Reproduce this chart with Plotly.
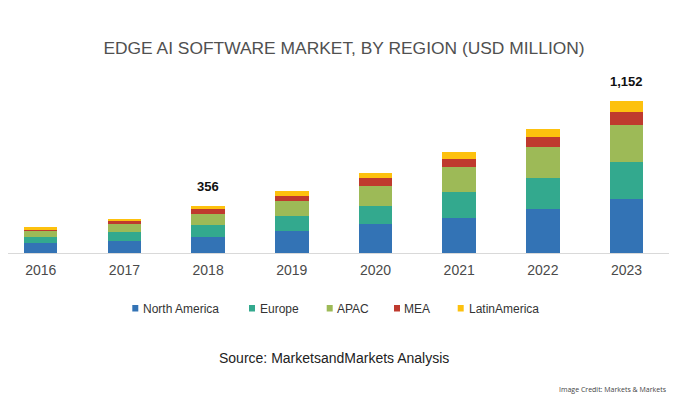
import plotly.graph_objects as go

years = ["2016", "2017", "2018", "2019", "2020", "2021", "2022", "2023"]
north_america = [75, 93, 124, 163, 218, 266, 331, 406]
europe = [48, 63, 89, 120, 140, 193, 233, 283]
apac = [45, 70, 80, 113, 151, 188, 238, 281]
mea = [13, 15, 38, 38, 58, 60, 78, 95]
latin_america = [13, 17, 25, 35, 35, 53, 60, 87]

series_names = ["North America", "Europe", "APAC", "MEA", "LatinAmerica"]
series_values = [north_america, europe, apac, mea, latin_america]
colors = ["#3373B5", "#33A98E", "#9DBA57", "#BF3A2E", "#FDC10E"]

label_years = ["2018", "2023"]
label_texts = ["356", "1,152"]

# figure geometry (page body adds an 8px offset)
W, H = 672, 392
TOP, BOT, RIGHT = 73, 147, 11
PW = W - RIGHT
PH = H - TOP - BOT
BASE = H - BOT


def px_x(fx):
    return fx / PW


def px_y(fy):
    return (BASE - fy) / PH


fig = go.Figure()
for name, vals, col in zip(series_names, series_values, colors):
    fig.add_trace(go.Bar(x=years, y=vals, name=name, showlegend=False,
                         marker=dict(color=col, line=dict(width=0))))

totals = [sum(v[i] for v in series_values) for i in range(len(years))]
for yr, txt in zip(label_years, label_texts):
    idx = years.index(yr)
    fig.add_annotation(x=idx, y=totals[idx], text="<b>" + txt + "</b>", showarrow=False,
                       yanchor="bottom", yshift=10, font=dict(size=13, color="#111111"))

# custom legend (square + label)
legend_sq_x = [124.3, 241, 318.7, 386, 449.7]
legend_tx_x = [133.7, 251.3, 328, 395.3, 460.3]
for name, col, sx, tx in zip(series_names, colors, legend_sq_x, legend_tx_x):
    fig.add_shape(type="rect", xref="paper", yref="paper",
                  x0=px_x(sx), x1=px_x(sx + 6), y0=px_y(303.5), y1=px_y(297),
                  fillcolor=col, line=dict(width=0))
    fig.add_annotation(text=name, xref="paper", yref="paper", x=px_x(tx), y=px_y(301),
                       xanchor="left", yanchor="middle", showarrow=False, xshift=-1,
                       font=dict(size=12, color="#333333"))

fig.add_annotation(text="Source: MarketsandMarkets Analysis", xref="paper", yref="paper",
                   x=px_x(326), y=px_y(350), showarrow=False, yanchor="middle",
                   font=dict(size=14, color="#222222"))
fig.add_annotation(text="Image Credit: Markets & Markets", xref="paper", yref="paper",
                   x=1.0, y=px_y(381), showarrow=False, xanchor="right", yanchor="middle",
                   font=dict(size=7, color="#444444", family="Open Sans, sans-serif"))

fig.update_layout(
    barmode="stack",
    bargap=0.6,
    width=W, height=H,
    paper_bgcolor="white", plot_bgcolor="white",
    margin=dict(l=0, r=RIGHT, t=TOP, b=BOT),
    font=dict(family="Liberation Sans, Arial, sans-serif"),
    title=dict(text="EDGE AI SOFTWARE MARKET, BY REGION (USD MILLION)", x=0.5, xanchor="center",
               y=1 - 39.5 / H, yanchor="middle", yref="container",
               font=dict(size=17.4, color="#505050")),
    showlegend=False,
    xaxis=dict(type="category", range=[-0.391, 7.507], showline=True, linecolor="#D9D9D9",
               linewidth=1, ticks="", showgrid=False, ticklabelstandoff=4,
               tickfont=dict(size=14, color="#4A4A4A")),
    yaxis=dict(range=[0, 1300], visible=False, showgrid=False, zeroline=False),
)

fig.write_html("out.html")
